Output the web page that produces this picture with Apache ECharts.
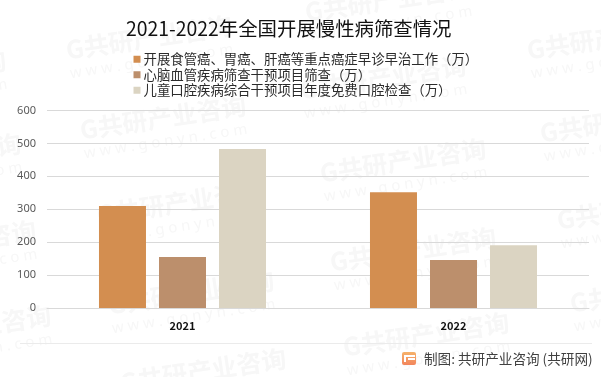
<!DOCTYPE html>
<html><head><meta charset="utf-8">
<style>html,body{margin:0;padding:0;background:#fff}#c{width:601px;height:377px}</style>
<script src="https://cdn.jsdelivr.net/npm/echarts@6/dist/echarts.min.js"></script>
</head><body><div id="c"></div>
<script>
const titleText='2021-2022年全国开展慢性病筛查情况';
const categories=['2021','2022'];
const seriesNames=['开展食管癌、胃癌、肝癌等重点癌症早诊早治工作（万）','心脑血管疾病筛查干预项目筛查（万）','儿童口腔疾病综合干预项目年度免费口腔检查（万）'];
const screeningCancer=[310,352];
const screeningCardio=[155,146];
const screeningOral=[483,191];
const colors=['#D38E50','#BC8F6C','#DBD4C2'];
const sourceText='制图: 共研产业咨询 (共研网)';
const watermarkAnchors=[[66,50],[80,130],[527,50],[540,133],[320,173],[-160,85],[-145,168],[300,90],[305,12],[-130,255],[97,215],[108,305],[-115,340],[120,383],[330,262],[343,347],[557,220],[570,303]];
const cjk='"Noto Sans CJK SC","Noto Sans",sans-serif';
const data=[screeningCancer,screeningCardio,screeningOral];
const chart=echarts.init(document.getElementById('c'),null,{renderer:'canvas'});
const marks=[];
const wmColor='#F7F7F7', rot=0.15;
watermarkAnchors.forEach(([x,y])=>{
 marks.push({type:'text',x:x,y:y,rotation:rot,z:0,silent:true,style:{text:'G共研产业咨询',font:'bold 25px '+cjk,fill:wmColor,verticalAlign:'middle'}});
 marks.push({type:'text',x:x+4,y:y+24,rotation:rot,z:0,silent:true,style:{text:'w w w . g o n y n . c o m',font:'15px "Noto Sans",sans-serif',fill:wmColor,verticalAlign:'middle'}});
});
marks.push({type:'line',z:1,silent:true,shape:{x1:20,y1:343.5,x2:592,y2:343.5},style:{stroke:'#EBEBEB',lineWidth:1}});
marks.push({type:'rect',z:1,silent:true,shape:{x:402,y:352,width:14,height:13,r:2},style:{fill:new echarts.graphic.LinearGradient(0,0,0,1,[{offset:0,color:'#F6B26B'},{offset:1,color:'#F2855C'}])}});
marks.push({type:'rect',z:2,silent:true,shape:{x:404,y:355,width:11,height:2},style:{fill:'#fff'}});
marks.push({type:'rect',z:2,silent:true,shape:{x:404,y:355,width:2,height:7},style:{fill:'#fff'}});
marks.push({type:'rect',z:2,silent:true,shape:{x:408,y:358,width:7,height:2},style:{fill:'#fff'}});
marks.push({type:'text',z:1,silent:true,x:424,y:358.5,style:{text:sourceText,font:'13.6px '+cjk,fill:'#404040',verticalAlign:'middle'}});
chart.setOption({
 animation:false,backgroundColor:'transparent',
 title:{text:titleText,left:126,top:19,padding:0,textStyle:{fontFamily:cjk,fontSize:19.4,fontWeight:'normal',color:'#111'}},
 legend:{orient:'vertical',left:133.5,top:52,padding:0,itemGap:1,itemWidth:7,itemHeight:7,icon:'rect',
  textStyle:{fontFamily:cjk,fontSize:13.4,lineHeight:14.5,color:'#2b2b2b',padding:[0,0,0,-2]},data:seriesNames},
 grid:{left:47,right:12,top:110.5,bottom:69,containLabel:false},
 xAxis:{type:'category',data:categories,axisTick:{show:false},axisLine:{lineStyle:{color:'#D9D9D9',width:1}},
  axisLabel:{fontFamily:cjk,fontSize:11,fontWeight:'bold',color:'#111',margin:12}},
 yAxis:{type:'value',min:0,max:600,interval:100,axisLine:{show:false},axisTick:{show:false},
  splitLine:{lineStyle:{color:'#D9D9D9',width:1}},
  axisLabel:{fontFamily:'"Noto Sans",sans-serif',fontSize:11,color:'#595959',margin:11}},
 series:seriesNames.map((n,i)=>({name:n,type:'bar',data:data[i],barWidth:47,barGap:'27.7%',itemStyle:{color:colors[i]},z:2})),
 graphic:{elements:marks}
});
</script></body></html>
